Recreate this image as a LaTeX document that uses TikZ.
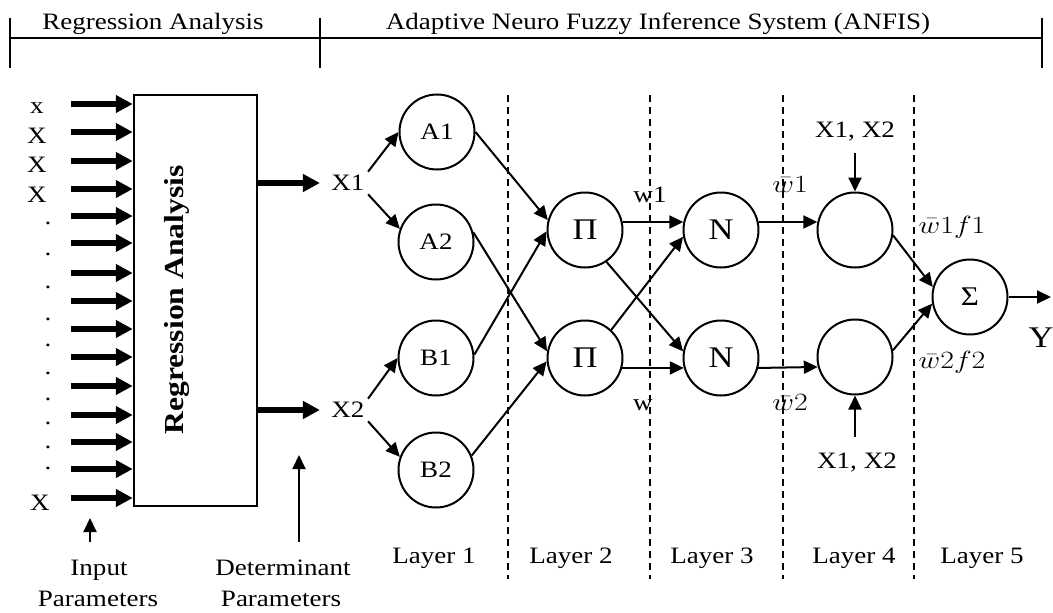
\documentclass[tikz,border=0pt]{standalone}
\usepackage{fontspec}
\setmainfont{Liberation Serif}[FakeStretch=1.15]
\usepackage{tikz}
\usetikzlibrary{arrows.meta}
\tikzset{
    neuron/.style={
                draw,
                circle,
                line width=2pt,
                minimum size=75pt,
                inner sep=0pt
            },
        bigsym/.style={
                font=\fontsize{30}{32}\selectfont
            },
        link/.style={
                line width=2pt,
                -{Triangle[length=14pt,width=13pt]}
            },
        fatlink/.style={
                line width=5.5pt,
                -{Triangle[length=17pt,width=17pt]}
            },
        divider/.style={
                line width=1.6pt,
                dash pattern=on 7pt off 5pt
            },
        caption/.style={
                anchor=base
            }
}
\newcommand{\wlabel}[1]{\scalebox{1.2}[1]{$#1$}}

\begin{document}
\begin{tikzpicture}[x=1pt,y=1pt,
    every node/.style={font=\fontsize{23.5}{27}\selectfont},
  ]
  \useasboundingbox (0,0) rectangle (1053,-613);
  % Header
  \coordinate (hl) at (10,-38);
  \coordinate (hm) at (320,-38);
  \coordinate (hr) at (1042,-38);
  \draw[line width=2pt] (hl) -- (hr);
  \foreach \c in {hl,hm,hr}
    \draw[line width=2pt] ([yshift=20pt]\c) -- ([yshift=-30pt]\c);
  \node[caption] (rhead) at (153,-30) {Regression Analysis};
  \node[caption] (ahead) at (658,-30) {Adaptive Neuro Fuzzy Inference System (ANFIS)};
  % Regression block
  \node[draw,line width=2.5pt,minimum width=123pt,minimum height=411pt] (rbox) at (195.5,-300.5) {};
  \node[rotate=90,font=\fontsize{27.5}{30}\selectfont\bfseries] (rtext) at (177,-300) {Regression Analysis};
  \foreach \y [count=\i] in {104,132,161,189,216,243,273,301,329,357,386,415,442,469,498} {
    \coordinate (in\i) at (71,-\y);
    \draw[fatlink] (in\i) -- (in\i -| rbox.west);
  }
  \node[caption] (xa) at (37,-113) {x};
  \node[caption] (xb) at (37,-143) {X};
  \node[caption] (xc) at (37,-172) {X};
  \node[caption] (xd) at (37,-202) {X};
  \foreach \y [count=\i] in {223,254,287,319,345,373,399,423,447,468}
    \node[caption] (dot\i) at (48,-\y-1.5) {.};
  \node[caption] (xn) at (40,-510) {X};
  % Input and determinant parameters
  \node[caption] (inp1) at (99,-575) {Input};
  \node[caption] (inp2) at (98,-606) {Parameters};
  \node[caption] (det1) at (283,-575) {Determinant};
  \node[caption] (det2) at (281,-606) {Parameters};
  \coordinate (inbase) at (90,-542);
  \coordinate (intip) at (90,-518);
  \coordinate (detbase) at (299,-542);
  \coordinate (dettip) at (299,-455);
  \draw[link] (inbase) -- (intip);
  \draw[link] (detbase) -- (dettip);
  % Determinant outputs
  \node (x1) at (348,-183) {X1};
  \node (x2) at (348,-410) {X2};
  \draw[fatlink,shorten >=8pt] (rbox.east |- x1) -- (x1.west);
  \draw[fatlink,shorten >=8pt] (rbox.east |- x2) -- (x2.west);
  % Layers
  \foreach \x in {508,650,783,914}
    \draw[divider] (\x,-95) -- (\x,-579);
  \node[neuron] (a1) at (437,-132) {A1};
  \node[neuron] (a2) at (436,-242) {A2};
  \node[neuron] (b1) at (436,-358) {B1};
  \node[neuron] (b2) at (436,-470) {B2};
  \node[neuron,bigsym] (p1) at (585,-230) {Π};
  \node[neuron,bigsym] (p2) at (585,-358) {Π};
  \node[neuron,bigsym] (n1) at (721,-230) {N};
  \node[neuron,bigsym] (n2) at (721,-358) {N};
  \node[neuron] (f1) at (855,-230) {};
  \node[neuron] (f2) at (855,-357) {};
  \node[neuron,font=\fontsize{27}{30}\selectfont] (s) at (970,-297) {Σ};
  % Connections
  \draw[link] (x1.north east) -- (a1.west);
  \draw[link] (x1.south east) -- (a2.160);
  \draw[link] (x2.north east) -- (b1.west);
  \draw[link] (x2.south east) -- (b2.160);
  \draw[link] (a1.east) -- (p1.165);
  \draw[link] (a2.15) -- (p2.170);
  \draw[link] (b1.5) -- (p1.182);
  \draw[link] (b2.22) -- (p2.185);
  \draw[link] (p1.12) -- (n1.168);
  \draw[link] (p1.-56) -- (n2.170);
  \draw[link] (p2.47) -- (n1.190);
  \draw[link] (p2.-15) -- (n2.195);
  \draw[link] (n1.12) -- (f1.168);
  \draw[link] (n2.-15) -- (f2.195);
  \draw[link] (f1.-8) -- (s.165);
  \draw[link] (f2.10) -- (s.190);
  \coordinate (yout) at (1051,-297);
  \draw[link] (s.east) -- (yout);
  \node[caption,bigsym] (y) at (1041,-347) {Y};
  % Consequent inputs
  \node[caption] (xin1) at (855,-137) {X1, X2};
  \node[caption] (xin2) at (857,-468) {X1, X2};
  \coordinate (xin1tail) at (855,-153);
  \coordinate (xin2tail) at (855,-437);
  \draw[link] (xin1tail) -- (f1.north);
  \draw[link] (xin2tail) -- (f2.south);
  % Signal labels
  \node[caption] (w1) at (650,-202) {w1};
  \node[caption] (w2) at (643,-410) {w};
  \node[caption] (nw1) at (790,-192) {\wlabel{\bar{w}1}};
  \node[caption] (nw2) at (790,-410) {\wlabel{\bar{w}2}};
  \node[caption] (wf1) at (952,-233) {\wlabel{\bar{w}1f1}};
  \node[caption] (wf2) at (952,-368) {\wlabel{\bar{w}2f2}};
  % Layer names
  \foreach \x/\n in {434/1,571/2,712/3,854/4,982/5}
    \node[caption] (layer\n) at (\x,-563) {Layer \n};
\end{tikzpicture}
\end{document}
